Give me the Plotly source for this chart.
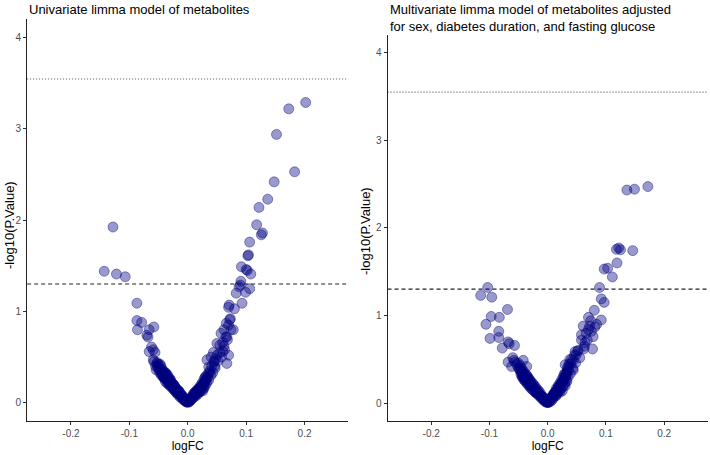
import plotly.graph_objects as go

# ---------------- data ----------------
panel_titles = [
    "Univariate limma model of metabolites",
    "Multivariate limma model of metabolites adjusted<br>for sex, diabetes duration, and fasting glucose",
]
x_title = "logFC"
y_title = "-log10(P.Value)"
x_ticks = [-0.2, -0.1, 0.0, 0.1, 0.2]
x_tick_labels = ["-0.2", "-0.1", "0.0", "0.1", "0.2"]
y_ticks = [0, 1, 2, 3, 4]
p_nominal_line = 1.301   # -log10(0.05)
p_bonf_line = 3.547

uni_logfc = [
    0.202, 0.173, 0.152, 0.183, 0.148, 0.137, 0.122, -0.128, 0.118,
    0.126, 0.128, 0.106, 0.104, 0.103, 0.092, 0.100, 0.102, 0.108,
    -0.143, -0.122, -0.107, 0.091, 0.088, 0.090, 0.106, 0.099, 0.083,
    -0.087, 0.093, 0.071, 0.070, 0.080, 0.072, 0.070, 0.078, 0.062,
    0.057, 0.067, -0.087, -0.079, -0.086, -0.066, -0.058, -0.070, -0.068,
    0.050, 0.055, 0.062, 0.070, -0.062, -0.059, -0.066, -0.056, 0.040,
    0.044, 0.050, 0.067, -0.059, -0.053, -0.047, 0.033, 0.036, -0.054,
    -0.050, -0.048, -0.046, -0.045, -0.044, -0.042, -0.041, -0.040, -0.039,
    -0.038, -0.037, -0.036, -0.035, -0.034, -0.033, -0.032, -0.031, -0.030,
    -0.029, -0.028, -0.027, -0.026, -0.025, -0.024, -0.023, -0.022, -0.021,
    -0.020, -0.019, -0.018, -0.017, -0.016, -0.015, -0.014, -0.013, -0.012,
    -0.011, -0.010, -0.009, -0.008, -0.007, -0.006, -0.005, -0.004, -0.003,
    -0.002, -0.001, 0.001, 0.002, 0.003, 0.004, 0.005, 0.006, 0.007,
    0.008, 0.009, 0.010, 0.011, 0.012, 0.013, 0.014, 0.015, 0.016,
    0.017, 0.018, 0.019, 0.020, 0.021, 0.022, 0.023, 0.024, 0.025,
    0.026, 0.027, 0.028, 0.029, 0.030, 0.031, 0.032, 0.034, -0.043,
    -0.038, -0.030, -0.024, -0.015, 0.012, 0.020, 0.026, 0.028, 0.030,
    0.038, 0.046, 0.045, -0.052, -0.036, 0.000, 0.001, -0.002, 0.060,
    -0.058, -0.055, -0.052, -0.050, -0.049, -0.047, -0.046, -0.044, -0.043,
    -0.042, -0.041, -0.040, -0.039, -0.038, -0.037, -0.036, -0.035, -0.034,
    -0.033, -0.032, -0.031, -0.030, -0.029, -0.028, -0.027, -0.026, -0.025,
    -0.024, -0.023, -0.022, -0.021, -0.020, -0.019, -0.018, -0.017, -0.016,
    -0.014, -0.013, -0.012, -0.010, -0.009, -0.008, -0.006, -0.005, -0.004,
    -0.003,
    0.003, 0.004, 0.006, 0.007, 0.009, 0.010, 0.012, 0.013, 0.015,
    0.016, 0.018, 0.019, 0.021, 0.022, 0.024, 0.025, 0.027, 0.028,
    0.030, 0.031, 0.033, 0.035, 0.036, 0.038, 0.040, 0.041, 0.043,
    0.045, 0.047, 0.048, 0.052, 0.055, 0.058, 0.060, 0.063, 0.065,
    0.068, 0.066, 0.073, 0.074,
]
uni_neglogp = [
    3.29, 3.22, 2.94, 2.53, 2.42, 2.23, 2.14, 1.925, 1.95,
    1.84, 1.86, 1.76, 1.62, 1.61, 1.49, 1.46, 1.45, 1.41,
    1.44, 1.41, 1.38, 1.33, 1.27, 1.29, 1.25, 1.21, 1.20,
    1.09, 1.09, 1.07, 1.045, 1.03, 0.91, 0.85, 0.80, 0.80,
    0.76, 0.72, 0.90, 0.88, 0.80, 0.80, 0.83, 0.74, 0.72,
    0.65, 0.63, 0.62, 0.52, 0.61, 0.58, 0.56, 0.55, 0.50,
    0.55, 0.52, 0.43, 0.47, 0.43, 0.42, 0.47, 0.39, 0.36,
    0.37, 0.33, 0.34, 0.30, 0.32, 0.29, 0.31, 0.27, 0.28,
    0.26, 0.29, 0.25, 0.24, 0.26, 0.23, 0.22, 0.24, 0.21,
    0.20, 0.19, 0.20, 0.18, 0.17, 0.16, 0.17, 0.15, 0.14,
    0.13, 0.13, 0.12, 0.11, 0.10, 0.10, 0.09, 0.08, 0.08,
    0.07, 0.06, 0.06, 0.05, 0.04, 0.04, 0.03, 0.025, 0.02,
    0.01, 0.005, 0.006, 0.013, 0.02, 0.03, 0.035, 0.045, 0.05,
    0.06, 0.065, 0.075, 0.08, 0.09, 0.10, 0.10, 0.11, 0.12,
    0.13, 0.14, 0.14, 0.15, 0.16, 0.17, 0.17, 0.18, 0.19,
    0.20, 0.21, 0.22, 0.22, 0.24, 0.25, 0.26, 0.28, 0.35,
    0.33, 0.26, 0.20, 0.13, 0.11, 0.12, 0.13, 0.16, 0.28,
    0.33, 0.40, 0.45, 0.40, 0.30, 0.01, 0.02, 0.03, 0.56,
    0.45, 0.40, 0.44, 0.42, 0.38, 0.36, 0.40, 0.37, 0.30,
    0.34, 0.27, 0.33, 0.30, 0.23, 0.32, 0.28, 0.21, 0.30,
    0.27, 0.20, 0.26, 0.18, 0.24, 0.22, 0.17, 0.21, 0.15,
    0.19, 0.14, 0.18, 0.12, 0.16, 0.11, 0.14, 0.09, 0.13,
    0.11, 0.06, 0.10, 0.08, 0.04, 0.07, 0.05, 0.02, 0.04,
    0.01,
    0.01, 0.04, 0.03, 0.07, 0.05, 0.10, 0.07, 0.12, 0.08,
    0.14, 0.10, 0.16, 0.12, 0.19, 0.14, 0.22, 0.17, 0.26,
    0.19, 0.29, 0.22, 0.32, 0.25, 0.35, 0.30, 0.40, 0.33,
    0.45, 0.38, 0.48, 0.46, 0.55, 0.50, 0.66, 0.58, 0.72,
    0.69, 0.87, 0.92, 0.80,
]

multi_logfc = [
    0.136, 0.149, 0.172, 0.122, 0.125, 0.146, 0.118, 0.119, 0.097,
    0.103, 0.111, 0.089, -0.103, -0.115, -0.096, 0.092, 0.097, -0.069,
    0.080, -0.097, -0.083, -0.106, 0.070, 0.074, 0.092, 0.084, 0.081,
    0.061, 0.070, -0.084, -0.099, -0.084, 0.058, 0.078, -0.068, -0.066,
    -0.078, -0.057, 0.064, 0.063, 0.077, 0.047, 0.049, 0.044, -0.068,
    -0.058, -0.042, -0.062, -0.050, -0.036, 0.030, 0.035,
    -0.048, -0.046, -0.045, -0.044, -0.043, -0.042, -0.041, -0.040, -0.039,
    -0.038, -0.037, -0.036, -0.035, -0.034, -0.033, -0.032, -0.031, -0.030,
    -0.029, -0.028, -0.027, -0.026, -0.025, -0.024, -0.023, -0.022, -0.021,
    -0.020, -0.019, -0.018, -0.017, -0.016, -0.015, -0.014, -0.013, -0.012,
    -0.011, -0.010, -0.009, -0.008, -0.007, -0.006, -0.005, -0.004, -0.003,
    -0.002, -0.001, 0.001, 0.002, 0.003, 0.004, 0.005, 0.006, 0.007,
    0.008, 0.009, 0.010, 0.011, 0.012, 0.013, 0.014, 0.015, 0.016,
    0.017, 0.018, 0.019, 0.020, 0.021, 0.022, 0.023, 0.024, 0.025,
    0.026, 0.027, 0.028, 0.029, 0.030, 0.031, 0.032, 0.033, 0.034,
    0.036, 0.025, 0.030, 0.028, -0.040, 0.044, 0.040, 0.038, -0.030,
    -0.020, 0.015, 0.021, -0.044, 0.033, 0.000, -0.001, 0.002, 0.052,
    -0.060, -0.056, -0.053, -0.051, -0.049, -0.047, -0.046, -0.045, -0.043,
    -0.042, -0.041, -0.040, -0.038, -0.037, -0.036, -0.035, -0.034, -0.033,
    -0.032, -0.031, -0.030, -0.029, -0.027, -0.026, -0.025, -0.024, -0.022,
    -0.021, -0.020, -0.018, -0.017, -0.015, -0.014, -0.012, -0.011, -0.009,
    -0.008, -0.006, -0.005, -0.003,
    0.003, 0.005, 0.006, 0.008, 0.009, 0.011, 0.012, 0.014, 0.015,
    0.017, 0.018, 0.020, 0.021, 0.023, 0.024, 0.026, 0.027, 0.029,
    0.030, 0.032, 0.034, 0.035, 0.037, 0.039, 0.041, 0.043, 0.046,
    0.048, 0.052, 0.055, 0.058, 0.062, 0.066, 0.068, 0.072, 0.075,
]
multi_neglogp = [
    2.43, 2.44, 2.47, 1.77, 1.75, 1.74, 1.755, 1.60, 1.53,
    1.54, 1.44, 1.32, 1.32, 1.23, 1.21, 1.19, 1.15, 1.07,
    1.06, 0.99, 0.98, 0.90, 0.98, 0.94, 0.95, 0.90, 0.87,
    0.88, 0.84, 0.82, 0.74, 0.75, 0.78, 0.76, 0.70, 0.68,
    0.63, 0.66, 0.69, 0.65, 0.62, 0.59, 0.55, 0.49, 0.47,
    0.49, 0.49, 0.42, 0.40, 0.42, 0.44, 0.42,
    0.38, 0.36, 0.40, 0.33, 0.35, 0.32, 0.30, 0.34, 0.29,
    0.31, 0.28, 0.27, 0.29, 0.25, 0.26, 0.24, 0.23, 0.24,
    0.22, 0.21, 0.20, 0.19, 0.19, 0.18, 0.17, 0.16, 0.15,
    0.15, 0.14, 0.13, 0.12, 0.12, 0.11, 0.10, 0.09, 0.09,
    0.08, 0.07, 0.065, 0.06, 0.05, 0.045, 0.04, 0.03, 0.02,
    0.015, 0.008, 0.01, 0.02, 0.03, 0.04, 0.045, 0.055, 0.065,
    0.075, 0.085, 0.09, 0.10, 0.11, 0.12, 0.13, 0.14, 0.15,
    0.16, 0.17, 0.18, 0.19, 0.20, 0.21, 0.22, 0.23, 0.24,
    0.25, 0.26, 0.27, 0.29, 0.30, 0.31, 0.33, 0.35, 0.37,
    0.39, 0.14, 0.20, 0.33, 0.27, 0.38, 0.45, 0.50, 0.20,
    0.12, 0.09, 0.13, 0.30, 0.25, 0.01, 0.02, 0.015, 0.60,
    0.52, 0.47, 0.44, 0.46, 0.40, 0.43, 0.33, 0.37, 0.30,
    0.37, 0.27, 0.31, 0.25, 0.33, 0.23, 0.31, 0.22, 0.29,
    0.20, 0.27, 0.18, 0.25, 0.16, 0.23, 0.15, 0.21, 0.13,
    0.19, 0.12, 0.16, 0.10, 0.14, 0.08, 0.11, 0.06, 0.08,
    0.04, 0.06, 0.02, 0.03,
    0.04, 0.02, 0.07, 0.04, 0.10, 0.07, 0.13, 0.09, 0.17,
    0.12, 0.20, 0.14, 0.23, 0.17, 0.27, 0.19, 0.30, 0.22,
    0.34, 0.26, 0.40, 0.30, 0.45, 0.34, 0.50, 0.40, 0.55,
    0.46, 0.60, 0.52, 0.72, 0.62, 0.80, 0.72, 0.88, 0.82,
]

# ---------------- figure ----------------
W, H = 710, 455
navy_fill = "rgba(0,0,128,0.4)"
font_family = "Liberation Sans, Arial, sans-serif"

fig = go.Figure()
marker = dict(size=10, color=navy_fill, line=dict(color=navy_fill, width=1))
fig.add_trace(go.Scatter(x=uni_logfc, y=uni_neglogp, mode="markers",
                         marker=marker, xaxis="x", yaxis="y", showlegend=False))
fig.add_trace(go.Scatter(x=multi_logfc, y=multi_neglogp, mode="markers",
                         marker=marker, xaxis="x2", yaxis="y2", showlegend=False))

axis_common = dict(
    showgrid=False, zeroline=False, showline=True, linecolor="#222222", linewidth=1,
    ticks="outside", ticklen=3, tickcolor="#333333", tickwidth=1,
    tickfont=dict(family=font_family, size=10, color="#4d4d4d"),
    title_font=dict(family=font_family, size=12, color="#000000"),
)
xr = [-0.275, 0.275]
yr = [-0.2, 4.2]
fig.update_layout(
    width=W, height=H, margin=dict(l=0, r=0, t=0, b=0),
    paper_bgcolor="white", plot_bgcolor="white",
    xaxis=dict(domain=[0.0382, 0.4906], range=xr, tickvals=x_ticks, ticktext=x_tick_labels,
               anchor="y", title=dict(text=x_title, standoff=3), **axis_common),
    yaxis=dict(domain=[0.0748, 0.9573], range=yr, tickvals=y_ticks, anchor="x", **axis_common),
    xaxis2=dict(domain=[0.5458, 0.9970], range=xr, tickvals=x_ticks, ticktext=x_tick_labels,
                anchor="y2", title=dict(text=x_title, standoff=3), **axis_common),
    yaxis2=dict(domain=[0.075, 0.9236], range=yr, tickvals=y_ticks, anchor="x2", **axis_common),
)

for xa, ya in [("x", "y"), ("x2", "y2")]:
    fig.add_shape(type="line", xref=f"{xa} domain", yref=ya, x0=0, x1=1,
                  y0=p_bonf_line, y1=p_bonf_line,
                  line=dict(color="#555555", width=1.2, dash="1px,2px"), layer="below")
    fig.add_shape(type="line", xref=f"{xa} domain", yref=ya, x0=0, x1=1,
                  y0=p_nominal_line, y1=p_nominal_line,
                  line=dict(color="#222222", width=1.2, dash="4px,3px"), layer="below")

# y-axis titles (rotated annotations placed like the reference)
for xpix, ypix in [(9.0, 225), (365.0, 231)]:
    fig.add_annotation(text=y_title, xref="paper", yref="paper",
                       x=xpix / W, y=1 - ypix / H, xanchor="center", yanchor="middle",
                       textangle=-90, showarrow=False,
                       font=dict(family=font_family, size=13, color="#000000"))

# panel titles
fig.add_annotation(text=panel_titles[0], xref="x domain", yref="paper",
                   x=0, y=1.0, xanchor="left", yanchor="top", showarrow=False,
                   align="left", font=dict(family=font_family, size=13, color="#000000"))
fig.add_annotation(text=panel_titles[1], xref="x2 domain", yref="paper",
                   x=0, y=1.0, xanchor="left", yanchor="top", showarrow=False,
                   align="left", font=dict(family=font_family, size=13, color="#000000"))

fig.write_html("out.html", config={"displayModeBar": False},
               post_script="document.body.style.margin='0';document.body.style.overflow='hidden';")
